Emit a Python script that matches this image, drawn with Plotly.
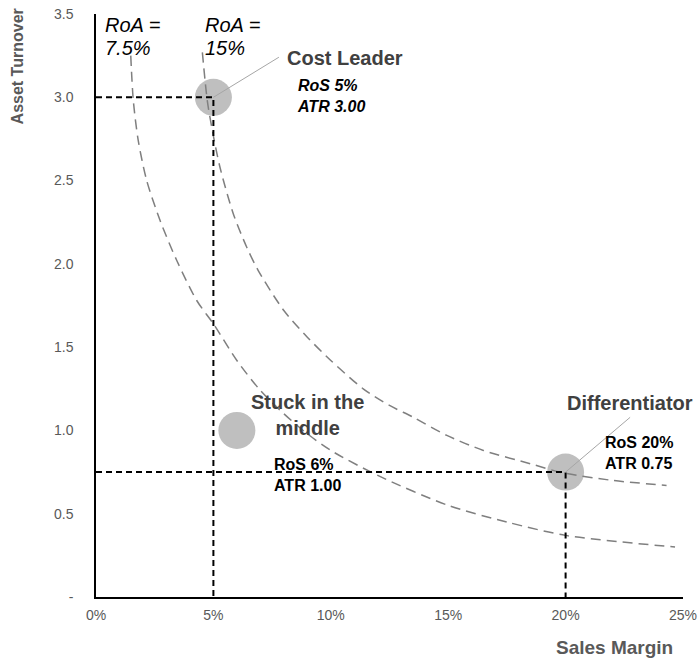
import plotly.graph_objects as go

# ---- data ----
strategies = ["Cost Leader", "Stuck in the middle", "Differentiator"]
sales_margin = [0.05, 0.06, 0.20]
asset_turnover = [3.00, 1.00, 0.75]

# iso-RoA curves
roa75_x = [0.0148, 0.0159, 0.0180, 0.0216, 0.0273, 0.0344, 0.0429, 0.0500,
           0.0600, 0.0700, 0.0800, 0.0900, 0.1000, 0.1200, 0.1500, 0.1750,
           0.2000, 0.2466]
roa75_y = [3.25, 2.98, 2.74, 2.50, 2.26, 2.02, 1.78, 1.64,
           1.42, 1.24, 1.10, 0.98, 0.88, 0.73, 0.55, 0.45,
           0.37, 0.30]
roa15_x = [0.0453, 0.0474, 0.0493, 0.0528, 0.0585, 0.0642, 0.0691, 0.0800,
           0.0900, 0.1000, 0.1138, 0.1250, 0.1350, 0.1494, 0.1650, 0.1850,
           0.1990, 0.2200, 0.2430]
roa15_y = [3.27, 2.98, 2.82, 2.58, 2.30, 2.10, 1.96, 1.72,
           1.56, 1.42, 1.25, 1.15, 1.08, 0.97, 0.88, 0.80,
           0.745, 0.70, 0.67]

x_ticks = [0, 0.05, 0.10, 0.15, 0.20, 0.25]
x_ticktext = ["0%", "5%", "10%", "15%", "20%", "25%"]
y_ticks = [0, 0.5, 1.0, 1.5, 2.0, 2.5, 3.0, 3.5]
y_ticktext = ["-", "0.5", "1.0", "1.5", "2.0", "2.5", "3.0", "3.5"]

FONT = "Arial, Liberation Sans, sans-serif"
GRAY_TXT = "#595959"
DARK = "#404040"

fig = go.Figure()

# bubbles
fig.add_trace(go.Scatter(x=sales_margin, y=asset_turnover, mode="markers",
                         marker=dict(size=37, color="#BFBFBF", line=dict(width=0)),
                         hoverinfo="skip", showlegend=False))

# iso-RoA curves
for cx, cy in [(roa75_x, roa75_y), (roa15_x, roa15_y)]:
    fig.add_trace(go.Scatter(x=cx, y=cy, mode="lines",
                             line=dict(color="#7F7F7F", width=1.5, dash="10px,6px",
                                       shape="spline", smoothing=0.8),
                             hoverinfo="skip", showlegend=False))

# reference dashed lines for Cost Leader and Differentiator
for i in (0, 2):
    fig.add_trace(go.Scatter(x=[0, sales_margin[i], sales_margin[i]],
                             y=[asset_turnover[i], asset_turnover[i], 0],
                             mode="lines",
                             line=dict(color="black", width=2, dash="6px,4px"),
                             hoverinfo="skip", showlegend=False))

ann = []
# leader lines
ann.append(dict(x=sales_margin[0], y=asset_turnover[0], text="", showarrow=True,
                arrowhead=0, arrowwidth=1, arrowcolor="#A6A6A6", ax=67, ay=-41,
                standoff=0, startstandoff=0, font=dict(size=1)))
ann.append(dict(x=sales_margin[2], y=asset_turnover[2], text="", showarrow=True,
                arrowhead=0, arrowwidth=1, arrowcolor="#A6A6A6", ax=66, ay=-56,
                standoff=0, startstandoff=0, font=dict(size=1)))

# strategy labels
ann.append(dict(x=0.106, y=3.235, text="<b>Cost Leader</b>", showarrow=False,
                xanchor="center", yanchor="middle", font=dict(size=20, color=DARK)))
ann.append(dict(x=0.0848, y=3.01, text="<b><i>RoS 5%<br>ATR 3.00</i></b>", showarrow=False,
                xanchor="left", yanchor="middle", align="left",
                font=dict(size=16, color="black")))
ann.append(dict(x=0.0899, y=1.095, text="<b>Stuck in the<br>middle</b>", showarrow=False,
                xanchor="center", yanchor="middle", align="center",
                font=dict(size=20, color=DARK)))
ann.append(dict(x=0.075, y=0.735, text="<b>RoS 6%<br>ATR 1.00</b>", showarrow=False,
                xanchor="left", yanchor="middle", align="left",
                font=dict(size=16, color="black")))
ann.append(dict(x=0.2274, y=1.164, text="<b>Differentiator</b>", showarrow=False,
                xanchor="center", yanchor="middle", font=dict(size=20, color=DARK)))
ann.append(dict(x=0.216, y=0.867, text="<b>RoS 20%<br>ATR 0.75</b>", showarrow=False,
                xanchor="left", yanchor="middle", align="left",
                font=dict(size=16, color="black")))
# RoA labels
for lx, line1, line2 in [(0.003, "RoA =", "7.5%"), (0.0455, "RoA =", "15%")]:
    ann.append(dict(x=lx, y=3.434, text="<i>%s</i>" % line1, showarrow=False,
                    xanchor="left", yanchor="middle", font=dict(size=20, color="black")))
    ann.append(dict(x=lx, y=3.298, text="<i>%s</i>" % line2, showarrow=False,
                    xanchor="left", yanchor="middle", font=dict(size=20, color="black")))
# axis titles
ann.append(dict(xref="paper", yref="paper", x=-0.133, y=0.91, text="<b>Asset Turnover</b>",
                textangle=-90, showarrow=False, xanchor="center", yanchor="middle",
                font=dict(size=16, color=GRAY_TXT)))
ann.append(dict(xref="paper", yref="paper", x=0.884, y=-0.0858, text="<b>Sales Margin</b>",
                showarrow=False, xanchor="center", yanchor="middle",
                font=dict(size=19, color=GRAY_TXT)))

for a in ann:
    a.setdefault("xref", "x")
    a.setdefault("yref", "y")

fig.update_layout(
    width=698, height=659,
    margin=dict(l=96, r=15, t=14, b=62, autoexpand=False),
    plot_bgcolor="white", paper_bgcolor="white",
    font=dict(family=FONT, color=GRAY_TXT, size=14),
    annotations=ann,
    showlegend=False,
)
fig.update_xaxes(range=[0, 0.25], tickvals=x_ticks, ticktext=x_ticktext,
                 showgrid=False, zeroline=False, showline=True, linecolor="black",
                 linewidth=1.5, ticks="", ticklabelstandoff=4, automargin=False,
                 tickfont=dict(size=14, color=GRAY_TXT))
fig.update_yaxes(range=[0, 3.5], tickvals=y_ticks, ticktext=y_ticktext,
                 showgrid=False, zeroline=False, showline=True, linecolor="black",
                 linewidth=1.5, ticks="", ticklabelstandoff=18, automargin=False,
                 tickfont=dict(size=14, color=GRAY_TXT))

fig.write_html("out.html", config={"displayModeBar": False},
               post_script="document.body.style.margin='0';document.body.style.overflow='hidden';")
